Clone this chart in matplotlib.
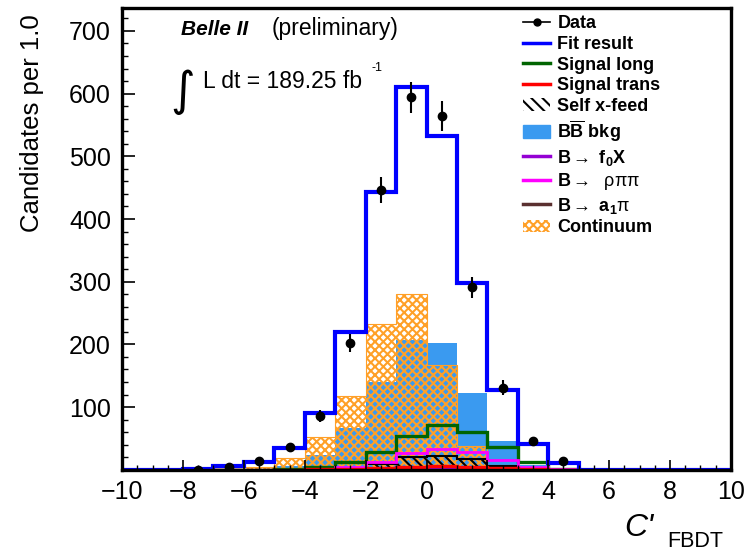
import numpy as np
import matplotlib
matplotlib.use('Agg')
import matplotlib.pyplot as plt
from matplotlib.lines import Line2D
from matplotlib.patches import Patch
from matplotlib.ticker import MultipleLocator

plt.rcParams['font.family'] = ['Liberation Sans', 'DejaVu Sans']
plt.rcParams['mathtext.fontset'] = 'custom'
plt.rcParams['mathtext.rm'] = 'Liberation Sans'
plt.rcParams['mathtext.it'] = 'Liberation Sans:italic'
plt.rcParams['mathtext.bf'] = 'Liberation Sans:bold'
plt.rcParams['hatch.linewidth'] = 1.5

# bins of width 1 from -10 to 10
edges = np.arange(-10, 11, 1)

fit       = [0, 0, 1, 6, 13, 35, 91, 220, 443, 611, 532, 298, 127, 41, 11, 0, 0, 0, 0, 0]
bb_bkg    = [0, 0, 0, 1, 2, 6, 24, 67, 140, 207, 203, 123, 46, 8, 1, 0, 0, 0, 0, 0]
continuum = [0, 0, 0, 1, 5, 19, 53, 118, 232, 280, 167, 38, 8, 2, 0, 0, 0, 0, 0, 0]
sig_long  = [0, 0, 0, 0, 0, 1, 5, 13, 29, 54, 72, 61, 36, 13, 2, 0, 0, 0, 0, 0]
sig_trans = [0, 0, 0, 0, 0, 0, 1, 1, 3, 5, 6, 5, 3, 1, 0, 0, 0, 0, 0, 0]
self_xf   = [0, 0, 0, 0, 0, 0, 1, 3, 10, 21, 22, 17, 6, 1, 0, 0, 0, 0, 0, 0]
b_f0x     = [0, 0, 0, 0, 0, 0, 0, 0, 1, 2, 3, 2, 1, 0, 0, 0, 0, 0, 0, 0]
b_rhopipi = [0, 0, 0, 0, 0, 0, 2, 5, 13, 27, 33, 28, 16, 5, 1, 0, 0, 0, 0, 0]
b_a1pi    = [0, 0, 0, 0, 0, 0, 0, 1, 1, 2, 2, 2, 1, 0, 0, 0, 0, 0, 0, 0]

data_x = [-7.5, -6.5, -5.5, -4.5, -3.5, -2.5, -1.5, -0.5, 0.5, 1.5, 2.5, 3.5, 4.5]
data_y = [0, 5, 14, 37, 86, 202, 446, 594, 564, 291, 131, 46, 14]

fig = plt.figure(figsize=(7.45, 5.54), dpi=100)
ax = fig.add_axes([0.164, 0.152, 0.817, 0.834])

c_bb = '#3a9af0'
c_cont = '#ffa028'

ax.stairs(bb_bkg, edges, fill=True, color=c_bb, linewidth=0)
ax.stairs(continuum, edges, fill=True, facecolor='none', edgecolor=c_cont,
          hatch='xxxx', linewidth=0.8)
ax.stairs(self_xf, edges, fill=True, facecolor='none', edgecolor='black',
          hatch='\\\\\\', linewidth=1.5)
ax.stairs(sig_long, edges, color='#006400', linewidth=2.4)
ax.stairs(b_a1pi, edges, color='#5a3030', linewidth=2.0)
ax.stairs(b_f0x, edges, color='#9400d3', linewidth=2.0)
ax.stairs(b_rhopipi, edges, color='#ff00ff', linewidth=2.0)
ax.stairs(sig_trans, edges, color='red', linewidth=2.4)
ax.stairs(fit, edges, color='#0000ff', linewidth=3.0)

ax.errorbar(data_x, data_y, yerr=np.sqrt(data_y), fmt='o', color='black',
            markersize=6, elinewidth=1.5, capsize=0, zorder=5)

ax.set_xlim(-10, 10)
ax.set_ylim(0, 737)

ax.xaxis.set_major_locator(MultipleLocator(2))
ax.xaxis.set_minor_locator(MultipleLocator(0.5))
ax.yaxis.set_minor_locator(MultipleLocator(20))
ax.set_yticks([100, 200, 300, 400, 500, 600, 700])
ax.tick_params(axis='both', which='both', direction='in', labelsize=18,
               top=False, right=False)
ax.tick_params(axis='y', which='major', length=9, width=1.2, pad=8)
ax.tick_params(axis='y', which='minor', length=4.5, width=1.0)
ax.tick_params(axis='x', which='major', length=7, width=1.2, pad=7)
ax.tick_params(axis='x', which='minor', length=3.5, width=1.0)
for s in ax.spines.values():
    s.set_linewidth(2.4)

ax.set_ylabel('Candidates per 1.0', fontsize=18.5, ha='right')
ax.yaxis.set_label_coords(-0.128, 0.987)

fig.text(0.838, 0.032, "C'", fontsize=23, style='italic')
fig.text(0.896, 0.013, 'FBDT', fontsize=15.5)

fig.text(0.243, 0.937, 'Belle II', fontsize=15, weight='bold', style='italic')
fig.text(0.364, 0.937, '(preliminary)', fontsize=16.5)
fig.text(0.228, 0.81, '\u222b', fontsize=34, family='DejaVu Sans')
fig.text(0.272, 0.842, 'L dt = 189.25 fb', fontsize=16.5)
fig.text(0.498, 0.872, '-1', fontsize=9)

handles = [
    Line2D([0], [0], color='black', marker='o', markersize=5, linewidth=1.2),
    Line2D([0], [0], color='#0000ff', linewidth=2.5),
    Line2D([0], [0], color='#006400', linewidth=2.5),
    Line2D([0], [0], color='red', linewidth=2.5),
    Patch(facecolor='none', edgecolor='black', hatch='\\\\\\', linewidth=0),
    Patch(facecolor=c_bb, edgecolor=c_bb),
    Line2D([0], [0], color='#9400d3', linewidth=2.5),
    Line2D([0], [0], color='#ff00ff', linewidth=2.5),
    Line2D([0], [0], color='#5a3030', linewidth=2.5),
    Patch(facecolor='none', edgecolor=c_cont, hatch='xxxx', linewidth=0),
]
labels = [
    'Data', 'Fit result', 'Signal long', 'Signal trans', 'Self x-feed',
    r'$\mathbf{B\overline{B}}$ bkg',
    r'B$\mathbf{\rightarrow}$ f$_\mathbf{0}$X',
    r'B$\mathbf{\rightarrow}$  $\mathrm{\rho\pi\pi}$',
    r'B$\mathbf{\rightarrow}$ a$_\mathbf{1}\mathrm{\pi}$',
    'Continuum',
]
leg = fig.legend(handles, labels, loc='upper left', bbox_to_anchor=(0.685, 0.995),
                 frameon=False, prop={'weight': 'bold', 'size': 13},
                 handlelength=1.5, handletextpad=0.4, labelspacing=0.2,
                 borderpad=0.2)

fig.savefig('out.png', dpi=100)
